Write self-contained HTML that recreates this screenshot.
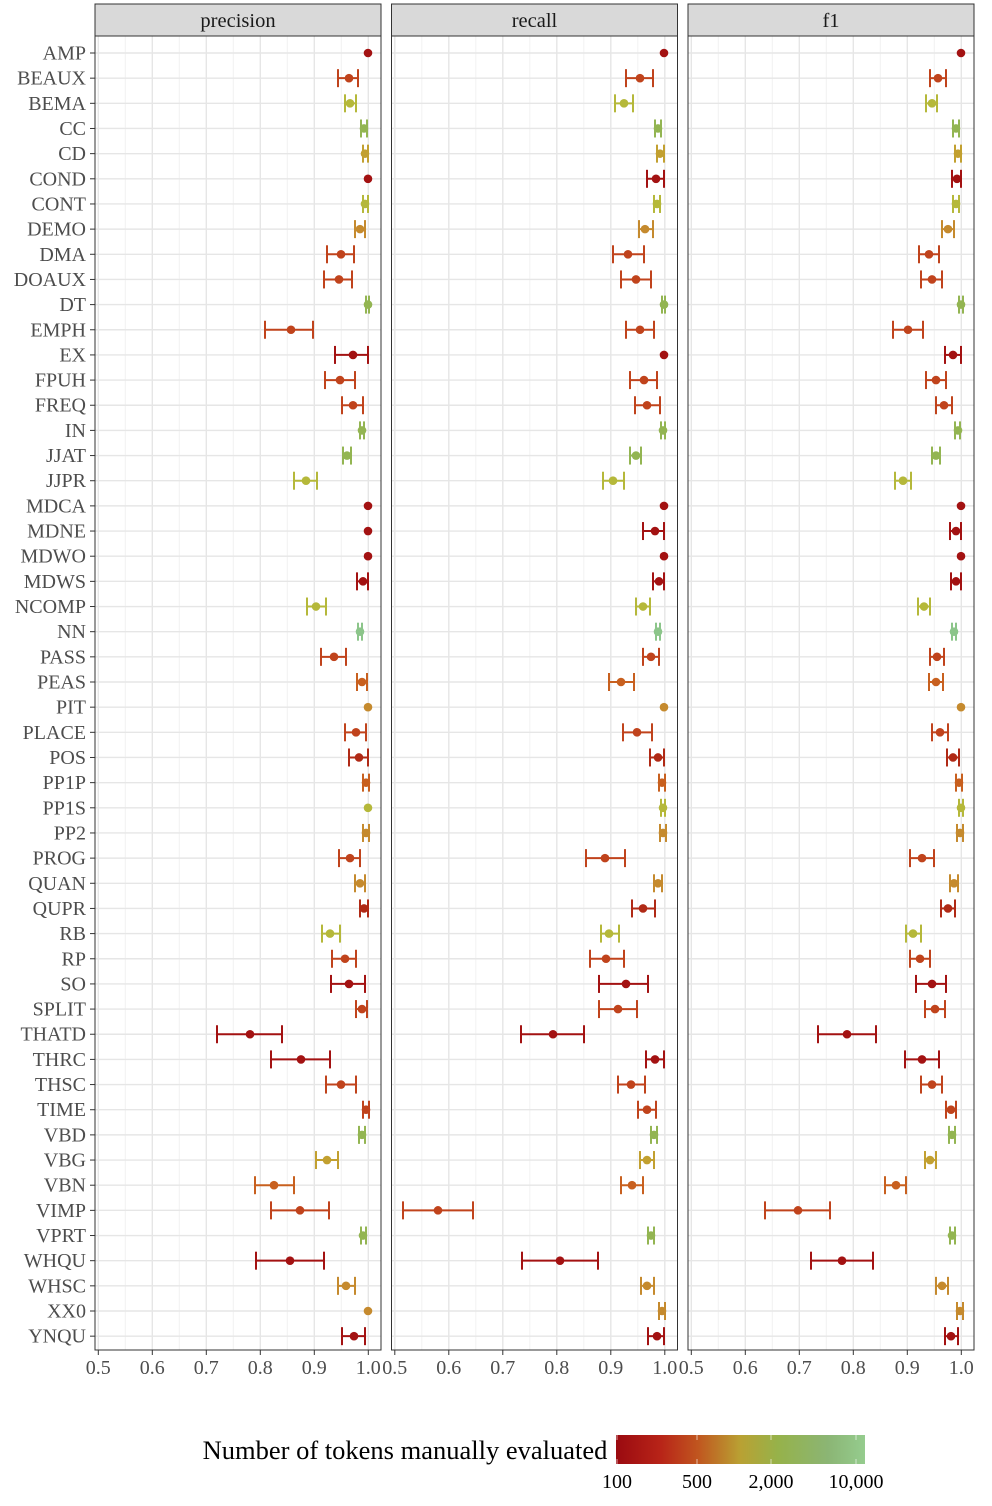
<!DOCTYPE html>
<html><head><meta charset="utf-8"><style>
html,body{margin:0;padding:0;background:#fff}
svg{display:block}
text{font-family:"Liberation Serif",serif}
</style></head><body>
<svg id="s" width="992" height="1506" viewBox="0 0 992 1506" xmlns="http://www.w3.org/2000/svg">
<defs>
<linearGradient id="g" x1="0" x2="1" y1="0" y2="0">
<stop offset="0" stop-color="#9a0a10"/>
<stop offset="0.18" stop-color="#b82418"/>
<stop offset="0.33" stop-color="#c0561f"/>
<stop offset="0.5" stop-color="#b9a133"/>
<stop offset="0.65" stop-color="#96b24a"/>
<stop offset="0.85" stop-color="#8bb574"/>
<stop offset="1" stop-color="#95cc8e"/>
</linearGradient>
</defs>
<text x="405" y="1459" font-size="26.5" text-anchor="middle" fill="#000">Number of tokens manually evaluated</text>
<rect x="616" y="1435" width="249" height="29" fill="url(#g)"/>
<g stroke="#fff" stroke-width="1" opacity="0.6">
<line x1="617" y1="1435" x2="617" y2="1440"/><line x1="617" y1="1459" x2="617" y2="1464"/>
<line x1="697" y1="1435" x2="697" y2="1440"/><line x1="697" y1="1459" x2="697" y2="1464"/>
<line x1="771" y1="1435" x2="771" y2="1440"/><line x1="771" y1="1459" x2="771" y2="1464"/>
<line x1="856" y1="1435" x2="856" y2="1440"/><line x1="856" y1="1459" x2="856" y2="1464"/>
</g>
<g font-size="20" fill="#000" text-anchor="middle">
<text x="617" y="1488">100</text><text x="697" y="1488">500</text><text x="771" y="1488">2,000</text><text x="856" y="1488">10,000</text>
</g>
</svg>
<script>
var C={1:"#a31212",2:"#c0431c",25:"#c8601f",3:"#c58a2e",35:"#c2a030",4:"#b5b83a",5:"#93b552",6:"#8cc58a",15:"#b02a16"};
var D=[
["AMP",1,[368],[664],[961]],
["BEAUX",2,[349,338,358],[640,626,653],[938,930,946]],
["BEMA",4,[350,345,356],[624,615,633],[932,926,937]],
["CC",5,[364,361,367],[658,655,661],[956,953,959]],
["CD",35,[365,363,368],[660,657,664],[958,955,961]],
["COND",1,[368],[656,647,664],[957,952,961]],
["CONT",4,[365,363,368],[657,654,660],[956,953,959]],
["DEMO",3,[360,355,365],[645,639,653],[948,942,954]],
["DMA",2,[341,327,354],[628,613,644],[929,919,939]],
["DOAUX",2,[339,324,352],[636,621,651],[932,921,942]],
["DT",5,[368,366,369],[664,662,665],[961,959,963]],
["EMPH",2,[291,265,313],[640,626,654],[908,893,923]],
["EX",1,[353,335,368],[664],[953,945,961]],
["FPUH",2,[340,325,355],[644,630,657],[936,926,946]],
["FREQ",2,[353,342,363],[647,635,660],[944,936,952]],
["IN",5,[362,360,364],[663,661,665],[958,955,960]],
["JJAT",5,[347,343,351],[636,630,641],[936,932,940]],
["JJPR",4,[306,294,317],[613,603,624],[903,895,911]],
["MDCA",1,[368],[664],[961]],
["MDNE",1,[368],[655,643,664],[956,950,961]],
["MDWO",1,[368],[664],[961]],
["MDWS",1,[363,357,368],[659,653,664],[956,951,961]],
["NCOMP",4,[316,307,326],[643,636,650],[924,918,930]],
["NN",6,[360,358,362],[658,656,660],[954,952,956]],
["PASS",2,[334,321,346],[651,643,659],[937,930,944]],
["PEAS",25,[362,357,367],[621,609,634],[936,929,943]],
["PIT",3,[368],[664],[961]],
["PLACE",2,[356,345,366],[637,623,652],[940,932,948]],
["POS",15,[359,349,368],[658,650,664],[953,947,959]],
["PP1P",25,[366,363,369],[662,659,665],[959,956,962]],
["PP1S",4,[368],[663,661,665],[961,959,963]],
["PP2",3,[366,363,369],[663,660,666],[960,957,963]],
["PROG",2,[350,339,360],[605,586,625],[922,910,934]],
["QUAN",3,[360,355,365],[658,654,662],[954,950,958]],
["QUPR",15,[364,360,368],[643,632,655],[948,941,955]],
["RB",4,[330,322,340],[609,601,619],[913,906,921]],
["RP",2,[345,332,356],[606,590,624],[920,910,930]],
["SO",1,[349,331,365],[626,599,648],[932,916,946]],
["SPLIT",2,[362,356,367],[618,599,637],[935,925,945]],
["THATD",1,[250,217,282],[553,521,584],[847,818,876]],
["THRC",1,[301,271,330],[655,646,664],[922,905,939]],
["THSC",2,[341,326,356],[631,618,645],[932,921,942]],
["TIME",2,[366,363,369],[647,638,656],[951,946,956]],
["VBD",5,[362,359,365],[654,651,657],[952,949,955]],
["VBG",35,[327,316,338],[647,640,654],[930,925,936]],
["VBN",25,[274,255,294],[632,621,643],[896,885,906]],
["VIMP",2,[300,271,329],[438,403,473],[798,765,830]],
["VPRT",5,[363,361,366],[651,648,654],[952,950,955]],
["WHQU",1,[290,256,324],[560,522,598],[842,811,873]],
["WHSC",3,[346,338,355],[647,641,654],[942,936,948]],
["XX0",3,[368],[662,659,665],[960,957,963]],
["YNQU",1,[354,342,365],[657,648,664],[951,945,958]]
];
var s=document.getElementById("s"),h="";
var PL=[95,391.5,688],PW=286,TOP=36,BOT=1350,names=["precision","recall","f1"];
function Y(i){return 53+i*25.16;}
for(var p=0;p<3;p++){
 var L=PL[p],x0=L+3.3;
 h+='<rect x="'+L+'" y="4" width="'+PW+'" height="'+(TOP-4)+'" fill="#d9d9d9" stroke="#333" stroke-width="1"/>';
 h+='<text x="'+(L+PW/2)+'" y="27" font-size="20.5" text-anchor="middle" fill="#1a1a1a">'+names[p]+'</text>';
 for(var k=0;k<11;k++){var gx=x0+k*27;h+='<line x1="'+gx+'" y1="'+TOP+'" x2="'+gx+'" y2="'+BOT+'" stroke="'+(k%2?"#f2f2f2":"#e6e6e6")+'" stroke-width="'+(k%2?1:1.4)+'"/>';}
 for(var i=0;i<D.length;i++){h+='<line x1="'+L+'" y1="'+Y(i)+'" x2="'+(L+PW)+'" y2="'+Y(i)+'" stroke="#e6e6e6" stroke-width="1.4"/>';}
 h+='<rect x="'+L+'" y="'+TOP+'" width="'+PW+'" height="'+(BOT-TOP)+'" fill="none" stroke="#333" stroke-width="1"/>';
 for(var k=0;k<6;k++){var gx=x0+k*54;h+='<line x1="'+gx+'" y1="'+BOT+'" x2="'+gx+'" y2="'+(BOT+5)+'" stroke="#333"/>';
  h+='<text x="'+gx+'" y="'+(BOT+24)+'" font-size="20" text-anchor="middle" fill="#4d4d4d">'+(k==5?"1.0":"0."+(5+k))+'</text>';}
 for(var i=0;i<D.length;i++){var d=D[i][2+p],c=C[D[i][1]],y=Y(i);
  if(d.length>1){var a=d[1],b=d[2];
   h+='<g stroke="'+c+'" stroke-width="2"><line x1="'+a+'" y1="'+y+'" x2="'+b+'" y2="'+y+'"/><line x1="'+a+'" y1="'+(y-9)+'" x2="'+a+'" y2="'+(y+9)+'"/><line x1="'+b+'" y1="'+(y-9)+'" x2="'+b+'" y2="'+(y+9)+'"/></g>';}
  h+='<circle cx="'+d[0]+'" cy="'+y+'" r="4.3" fill="'+c+'"/>';}
}
for(var i=0;i<D.length;i++){var y=Y(i);
 h+='<line x1="90" y1="'+y+'" x2="95" y2="'+y+'" stroke="#333"/>';
 h+='<text x="86" y="'+(y+6.5)+'" font-size="20" text-anchor="end" fill="#4d4d4d">'+D[i][0]+'</text>';}
s.insertAdjacentHTML("beforeend",h);
</script>
</body></html>
